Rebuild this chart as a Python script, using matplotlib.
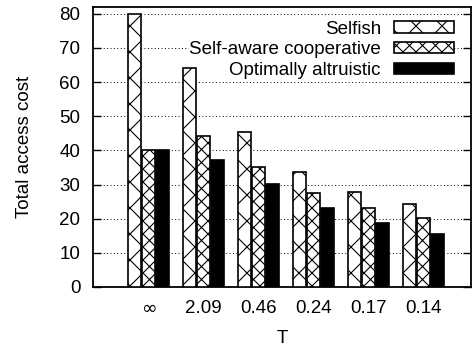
#!/usr/bin/env python3
import numpy as np
import matplotlib
matplotlib.use('Agg')
import matplotlib.pyplot as plt

# Valores
etiquetas_T = ['$\\infty$', '2.09', '0.46', '0.24', '0.17', '0.14']
selfish = [80, 64, 45.5, 33.8, 27.9, 24.2]
self_aware = [40, 44.3, 35.0, 27.5, 23.1, 20.3]
optimal = [40, 37.2, 30.1, 23.1, 18.7, 15.5]
nombres = ['Selfish', 'Self-aware cooperative', 'Optimally altruistic']

# dpi 78 para que el tramado 'x' tenga el paso de la figura original
DPI = 78
k = 100 / DPI  # escala de puntos

plt.rcParams['font.family'] = ['Liberation Sans', 'DejaVu Sans']
plt.rcParams['hatch.linewidth'] = 0.8 * k

fig = plt.figure(figsize=(472 / DPI, 347 / DPI), dpi=DPI)
ax = fig.add_axes([0.197, 0.173, 0.801, 0.807])

fs = 13.5 * k
x = np.arange(len(etiquetas_T))
w = 0.24
off = 0.255

ax.bar(x - off, selfish, w, color='white', edgecolor='black', hatch='x',
       linewidth=1.2 * k, label=nombres[0], zorder=3)
ax.bar(x, self_aware, w, color='white', edgecolor='black', hatch='xx',
       linewidth=1.2 * k, label=nombres[1], zorder=3)
ax.bar(x + off, optimal, w, color='black', edgecolor='black',
       linewidth=1.2 * k, label=nombres[2], zorder=3)

ax.set_xlim(-1.01, 5.86)
ax.set_ylim(0, 82)
ax.set_yticks(np.arange(0, 81, 10))
ax.set_xticks(x)
ax.set_xticklabels(etiquetas_T)
ax.tick_params(axis='y', direction='in', length=6 * k, width=1 * k, right=True,
               labelsize=fs, pad=9 * k)
ax.tick_params(axis='x', length=0, labelsize=fs, pad=9.5 * k)
for s in ax.spines.values():
    s.set_linewidth(1.3 * k)

ax.yaxis.grid(True, color='black', linestyle=(0, (1, 2.5)), linewidth=0.7 * k, zorder=0)
ax.set_axisbelow(True)

ax.set_ylabel('Total access cost', fontsize=fs, labelpad=19 * k)
ax.set_xlabel('T', fontsize=fs, labelpad=9 * k)

leg = ax.legend(loc='upper right', bbox_to_anchor=(0.98, 0.985), markerfirst=False,
                frameon=True, fancybox=False, edgecolor='none', framealpha=1,
                fontsize=fs, handlelength=3.2, handleheight=0.55,
                labelspacing=0.2, handletextpad=0.7, borderpad=0.0)
leg.set_zorder(2.5)

fig.savefig('out.png', dpi=DPI)
